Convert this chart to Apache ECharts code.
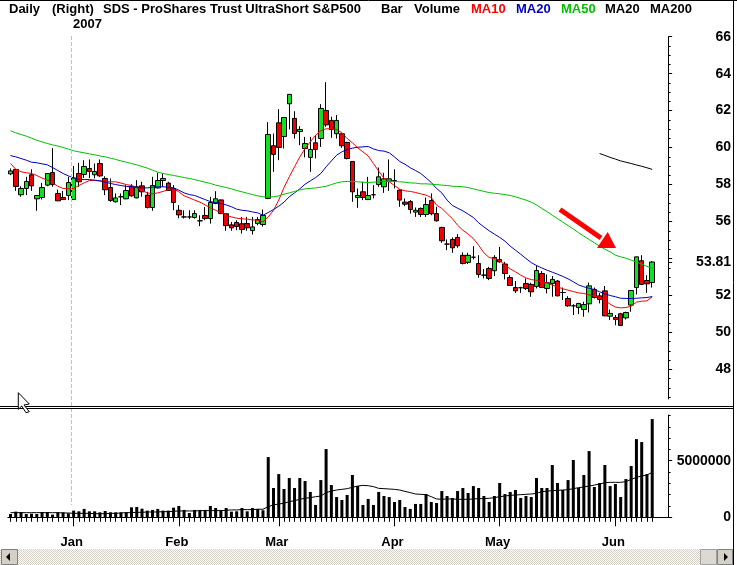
<!DOCTYPE html>
<html><head><meta charset="utf-8">
<style>html,body{margin:0;padding:0;background:#fff}#c{width:737px;height:565px}</style>
<script src="https://cdn.jsdelivr.net/npm/echarts@6/dist/echarts.min.js"></script>
</head><body><div id="c"></div>
<script>
const opens=[58.58,58.82,57.45,57.79,58.53,57.23,57.30,57.97,58.65,57.52,
57.30,57.41,57.19,58.60,58.55,58.87,58.53,59.14,58.33,57.84,
57.07,57.34,57.23,57.91,57.28,57.93,57.43,56.76,57.82,58.22,
58.08,57.79,56.61,56.25,56.25,56.22,56.04,56.33,56.16,56.98,
57.17,56.42,55.82,55.95,55.88,55.89,55.51,55.89,55.84,57.25,
60.10,61.34,60.60,62.37,61.58,60.87,59.95,59.47,60.26,60.49,
62.01,61.47,60.75,60.75,60.28,59.25,57.30,57.61,57.19,57.45,
58.00,57.88,58.18,58.22,57.70,57.05,57.08,56.51,56.71,56.38,
57.14,56.43,55.68,54.78,55.03,55.14,54.17,53.79,54.07,53.73,
53.10,53.46,53.34,53.95,53.70,52.97,52.43,52.42,52.65,52.60,
52.49,53.19,52.38,52.65,52.78,52.16,51.84,51.44,51.35,51.24,
51.55,52.33,51.98,52.25,50.88,50.81,51.01,50.79,51.48,52.43,
53.88,52.81,52.70];
const closes=[58.74,57.90,57.79,58.17,57.93,57.41,57.84,58.60,58.00,57.12,
57.19,58.11,58.36,58.15,58.98,58.71,58.71,58.47,57.72,57.14,
57.28,57.34,57.68,57.39,57.88,57.61,56.76,57.95,58.22,58.33,
57.68,57.03,56.36,56.25,56.25,56.43,56.04,56.16,57.03,57.23,
56.43,55.78,55.66,55.73,55.57,55.66,55.71,56.11,56.33,60.71,
59.63,60.01,61.63,62.88,60.76,60.98,60.22,59.90,59.90,62.12,
61.23,60.98,61.47,60.10,59.41,57.61,57.41,57.30,57.41,57.45,
58.42,58.31,58.31,58.22,57.16,56.94,56.65,56.61,56.38,56.92,
56.42,56.04,54.96,54.78,54.58,54.69,53.73,54.17,54.07,53.14,
53.10,52.92,54.06,53.82,53.19,52.54,52.25,52.42,52.38,52.20,
53.35,52.43,52.69,52.87,51.98,52.16,51.44,51.44,51.57,51.51,
52.52,51.89,51.78,50.90,51.03,50.70,50.38,51.08,52.27,54.09,
52.60,52.63,53.81];
const lows=[58.51,57.66,57.34,57.43,57.66,56.58,57.19,57.91,57.88,57.12,
57.19,57.16,57.19,57.88,58.36,58.35,58.33,58.42,57.43,57.07,
57.03,56.89,57.21,57.34,57.26,57.34,56.71,56.58,57.79,57.88,
57.68,56.61,56.18,56.16,56.13,56.16,55.75,56.07,55.89,56.94,
56.43,55.50,55.50,55.53,55.35,55.50,55.30,55.80,55.73,57.21,
58.69,59.32,59.95,60.98,60.49,60.13,59.47,58.69,59.41,60.04,
61.13,60.53,60.49,59.99,59.36,57.07,56.74,57.16,57.16,57.25,
57.88,57.55,57.66,57.79,56.80,56.83,56.43,56.25,56.25,56.25,
56.34,56.00,54.85,54.45,54.31,54.58,53.68,53.70,53.95,52.96,
52.92,52.83,53.05,53.77,52.87,52.51,52.14,52.14,52.29,51.93,
52.38,52.42,52.11,51.93,51.96,51.75,51.39,50.94,50.99,50.85,
51.08,51.84,51.57,50.88,50.67,50.39,50.36,50.70,51.12,52.05,
52.56,52.14,52.43];
const highs=[58.87,58.82,57.91,58.42,58.83,57.43,58.09,58.60,59.97,57.73,
57.66,58.42,59.01,59.18,59.32,59.36,59.14,59.36,58.45,58.33,
57.52,57.52,57.97,58.02,58.24,58.15,57.61,58.42,58.64,58.60,
58.15,57.97,56.89,56.61,56.61,56.61,56.34,56.79,57.34,57.64,
57.19,56.43,55.98,56.07,56.25,56.25,56.25,56.25,56.65,61.38,
60.76,62.08,61.63,62.88,61.97,61.16,60.58,60.58,60.67,62.35,
63.54,61.67,61.76,60.76,60.31,59.25,57.79,58.15,58.42,57.97,
58.92,58.64,59.36,58.83,57.73,57.25,57.16,56.76,56.76,57.30,
57.52,56.80,55.72,55.03,55.14,55.32,54.33,54.31,54.67,54.18,
53.43,53.55,54.18,54.63,53.82,53.10,52.78,52.47,52.92,52.69,
53.64,53.32,53.14,53.05,52.83,52.43,51.96,51.53,51.60,51.66,
52.70,52.43,52.14,52.51,51.24,50.94,51.06,51.12,52.29,54.09,
54.18,53.10,53.86];
const ma10=[59.14,58.83,58.69,58.64,58.60,58.49,58.35,58.24,58.09,57.91,
57.79,57.77,57.79,57.95,58.09,58.22,58.22,58.20,58.17,58.15,
58.15,58.08,58.00,57.95,57.82,57.68,57.55,57.50,57.55,57.63,
57.73,57.77,57.61,57.39,57.28,57.16,57.05,56.90,56.74,56.61,
56.47,56.34,56.25,56.18,56.15,56.13,56.09,56.07,55.98,56.25,
56.61,57.16,57.84,58.42,58.96,59.50,59.95,60.31,60.67,60.91,
61.02,61.02,60.98,60.80,60.49,60.26,59.99,59.77,59.55,59.14,
58.73,58.35,58.15,57.95,57.75,57.66,57.63,57.57,57.50,57.43,
57.30,56.89,56.71,56.43,56.16,55.80,55.53,55.32,55.08,54.72,
54.31,54.05,54.00,53.91,53.64,53.44,53.28,53.10,52.95,52.86,
52.82,52.74,52.68,52.56,52.47,52.36,52.29,52.21,52.14,52.11,
52.03,51.96,51.91,51.74,51.53,51.37,51.33,51.35,51.42,51.64,
51.69,51.71,51.93];
const ma20=[59.57,59.50,59.41,59.32,59.21,59.18,59.12,59.07,58.92,58.76,
58.60,58.47,58.36,58.27,58.27,58.27,58.24,58.20,58.13,58.06,
58.00,57.95,57.90,57.88,57.86,57.82,57.82,57.86,57.88,57.88,
57.86,57.82,57.70,57.55,57.46,57.41,57.30,57.19,57.08,57.03,
56.98,56.90,56.80,56.67,56.61,56.58,56.52,56.47,56.34,56.49,
56.65,56.83,57.05,57.34,57.55,57.77,58.02,58.20,58.38,58.60,
58.96,59.28,59.59,59.77,59.90,59.97,60.02,60.04,60.06,59.93,
59.84,59.81,59.72,59.50,59.25,59.10,58.91,58.76,58.60,58.36,
58.11,57.79,57.55,57.16,56.87,56.72,56.58,56.40,56.22,55.93,
55.71,55.50,55.32,55.14,54.94,54.67,54.45,54.23,54.00,53.78,
53.62,53.49,53.37,53.26,53.15,53.03,52.90,52.74,52.57,52.47,
52.39,52.32,52.20,52.09,52.00,51.93,51.85,51.84,51.84,51.85,
51.87,51.89,51.94];
const ma50=[60.91,60.80,60.71,60.62,60.51,60.40,60.31,60.22,60.15,60.08,
60.01,59.92,59.83,59.77,59.72,59.66,59.61,59.55,59.50,59.43,
59.36,59.28,59.21,59.14,59.07,58.98,58.89,58.78,58.67,58.60,
58.55,58.49,58.44,58.38,58.33,58.27,58.20,58.13,58.06,57.97,
57.91,57.84,57.77,57.68,57.61,57.53,57.46,57.39,57.34,57.32,
57.34,57.39,57.48,57.55,57.63,57.71,57.77,57.79,57.82,57.86,
57.91,58.00,58.09,58.15,58.17,58.17,58.15,58.13,58.11,58.13,
58.15,58.17,58.17,58.17,58.15,58.13,58.09,58.08,58.04,58.04,
58.02,58.00,57.97,57.95,57.91,57.90,57.88,57.84,57.77,57.70,
57.63,57.57,57.53,57.50,57.46,57.41,57.34,57.25,57.16,57.05,
56.90,56.71,56.54,56.34,56.16,55.97,55.78,55.60,55.39,55.21,
55.03,54.85,54.67,54.50,54.36,54.18,54.09,54.02,53.91,53.82,
53.69,53.58,53.46];
const ma200Start=112;
const ma200=[59.68,59.58,59.47,59.38,59.28,59.21,59.14,59.06,58.99,58.91,58.82];
const volumeM=[.29,.50,.47,.29,.32,.29,.47,.47,.24,.44,
.44,.35,.59,.53,.74,.53,.53,.44,.56,.44,
.44,.44,.44,.88,.91,.76,.59,.65,.74,.59,
.59,.85,1.00,.65,.38,.65,.65,.65,1.00,.82,
.65,.82,.50,.53,.82,.53,.82,.74,.62,5.32,
2.59,3.82,2.50,3.47,2.59,3.47,3.21,2.24,1.09,3.29,
6.03,2.85,1.79,1.53,1.97,3.74,2.76,1.09,1.62,1.09,
2.24,1.88,1.79,1.35,1.53,.91,.74,1.18,1.18,2.06,
1.35,1.26,2.32,1.88,1.71,2.32,2.59,2.15,2.76,2.59,
1.88,1.35,1.88,3.03,2.06,2.24,2.41,1.71,1.88,1.79,
3.47,2.59,2.59,4.62,3.03,2.41,3.29,5.06,2.59,3.74,
5.85,2.68,3.03,4.62,2.76,2.94,1.79,3.38,4.53,6.91,
6.65,3.82,8.68];
const volumeAvgM=[.41,.41,.41,.41,.41,.41,.41,.41,.41,.41,
.38,.38,.35,.35,.35,.35,.32,.32,.32,.35,
.35,.38,.41,.41,.44,.44,.47,.47,.47,.50,
.50,.53,.56,.56,.56,.56,.59,.59,.59,.59,
.59,.62,.65,.65,.68,.68,.68,.71,.71,.94,
1.09,1.18,1.24,1.38,1.47,1.59,1.68,1.74,1.82,1.88,
2.18,2.32,2.41,2.47,2.53,2.65,2.76,2.82,2.79,2.71,
2.56,2.53,2.50,2.47,2.41,2.29,2.18,2.06,2.03,2.00,
1.82,1.62,1.59,1.62,1.62,1.59,1.59,1.59,1.62,1.65,
1.65,1.68,1.74,1.82,1.88,1.94,1.97,2.00,2.03,2.06,
2.12,2.26,2.32,2.35,2.38,2.41,2.44,2.53,2.62,2.68,
2.76,2.85,2.94,3.06,3.09,3.09,3.09,3.15,3.35,3.53,
3.65,3.74,3.97];
const monthAt={12:'Jan',32:'Feb',51:'Mar',73:'Apr',93:'May',115:'Jun'};
const barCount=123, emptySlots=3;
const lastPrice=53.81;
const priceLabels=[48,50,52,lastPrice,56,58,60,62,64,66];
const priceMajor=[48,50,52,lastPrice,54,56,58,60,62,64,66];
const volLabels=[0,5000000];

for(const a of [opens,closes,lows,highs,ma10,ma20,ma50,volumeM,volumeAvgM]) if(a.length!==barCount) throw new Error('len '+a.length);

const cats=[];for(let i=0;i<barCount+emptySlots;i++)cats.push(monthAt[i]||String(i));
const priceMinor=[];for(let v=46.5;v<=66;v+=.5)priceMinor.push(v);
const volMinor=[];for(let v=0;v<=9e6;v+=1e6)volMinor.push(v);
const FONT='bold 13px "Liberation Sans"';
const AX={fontFamily:'Liberation Sans',fontWeight:'bold',fontSize:14,color:'#000'};
const txt=(x,y,s,fill='#000')=>({type:'text',x,y,silent:true,z:50,style:{text:s,font:FONT,fill,textVerticalAlign:'middle'}});
const ln=(x1,y1,x2,y2,stroke='#000',lineWidth=1,lineDash=null)=>({type:'line',silent:true,z:40,shape:{x1,y1,x2,y2},style:{stroke,lineWidth,lineDash}});
const poly=(points,fill,stroke,z=60)=>({type:'polygon',silent:true,z,shape:{points},style:{fill,stroke:stroke||null,lineWidth:1}});
const rect=(x,y,width,height,fill,stroke)=>({type:'rect',silent:true,z:45,shape:{x,y,width,height},style:{fill,stroke:stroke||null,lineWidth:1}});

const dither=document.createElement('canvas');dither.width=2;dither.height=2;
{const g=dither.getContext('2d');g.fillStyle='#fff';g.fillRect(0,0,2,2);g.fillStyle='#d4d0c8';g.fillRect(0,0,1,1);g.fillRect(1,1,1,1);}

const graphics=[
 ln(0,0.5,737,0.5),ln(733.5,0,733.5,565),
 ln(71.5,36,71.5,505,'#c0c0c0',1,[4,2]),
 ln(0,406.5,734,406.5),ln(0,408.5,734,408.5),
 txt(9,9,'Daily'),txt(52,9,'(Right)'),txt(103,9,'SDS - ProShares Trust UltraShort S&P500'),
 txt(381,9,'Bar'),txt(414,9,'Volume'),txt(471,9,'MA10','#ff0000'),txt(516,9,'MA20','#0000c0'),
 txt(561,9,'MA50','#00c000'),txt(605,9,'MA20'),txt(650,9,'MA200'),txt(73,24,'2007'),
 ln(560,209.5,601,238,'#ff0000',5),
 poly([[607.7,232],[597,248],[616,248]],'#ff0000'),
 poly([[18.3,392.7],[29.3,404],[24,405],[29.3,411.7],[26,412.7],[21.7,406],[18.3,409.3]],'#fff','#000'),
 rect(0,549,733,16,{image:dither,repeat:'repeat'}),
 rect(1.5,549.5,16,15,'#d4d0c8','#808080'),
 rect(700.5,549.5,16,15,'#dcd9d2','#a0a0a0'),
 rect(717.5,549.5,15,15,'#d4d0c8','#808080'),
 poly([[6,557],[10,553],[10,561]],'#000',null,61),
 poly([[728,557],[724,553],[724,561]],'#000',null,61)
];

const chart=echarts.init(document.getElementById('c'),null,{renderer:'canvas'});
const lineS=(name,data,color)=>({name,type:'line',data,symbol:'none',xAxisIndex:0,yAxisIndex:0,z:5,
  lineStyle:{color,width:1},itemStyle:{color}});
chart.setOption({
 animation:false,backgroundColor:'#fff',
 grid:[{left:7.87,top:36.7,width:662.76,height:362.3},{left:7.87,top:415,width:662.76,height:102.3}],
 xAxis:[
  {type:'category',gridIndex:0,data:cats,show:false,boundaryGap:true},
  {type:'category',gridIndex:1,data:cats,boundaryGap:true,position:'bottom',
   axisLine:{show:true,lineStyle:{color:'#000',width:1}},
   axisTick:{show:true,alignWithLabel:true,length:4.5,lineStyle:{color:'#000'},interval:(i)=>i<barCount},
   axisLabel:{show:false},splitLine:{show:false}},
  {type:'category',gridIndex:1,data:cats,boundaryGap:true,position:'bottom',
   axisLine:{show:false},
   axisTick:{show:true,alignWithLabel:true,length:9,lineStyle:{color:'#000'},interval:(i)=>monthAt[i]!==undefined},
   axisLabel:{show:true,interval:(i)=>monthAt[i]!==undefined,margin:19,padding:[0,4,0,0],...AX,fontSize:13,formatter:(v)=>isNaN(+v)?v:''},splitLine:{show:false}}
 ],
 yAxis:[
  {type:'value',gridIndex:0,position:'right',offset:-2,min:46.4,max:66,splitLine:{show:false},
   axisLine:{show:true,lineStyle:{color:'#000'}},
   axisTick:{show:true,length:3.5,lineStyle:{color:'#000'},customValues:priceMajor},
   axisLabel:{show:true,customValues:priceLabels,margin:62.5,align:'right',...AX,
     formatter:(v)=>v===lastPrice?v.toFixed(2):String(v)}},
  {type:'value',gridIndex:0,position:'right',offset:-2,min:46.4,max:66,splitLine:{show:false},
   axisLine:{show:false},axisLabel:{show:false},
   axisTick:{show:true,length:2,lineStyle:{color:'#000'},customValues:priceMinor}},
  {type:'value',gridIndex:1,position:'right',offset:-2,min:0,max:9040000,splitLine:{show:false},
   axisLine:{show:true,lineStyle:{color:'#000'}},
   axisTick:{show:true,length:3.5,lineStyle:{color:'#000'},customValues:volLabels},
   axisLabel:{show:true,customValues:volLabels,margin:62.5,align:'right',...AX,formatter:(v)=>String(v)}},
  {type:'value',gridIndex:1,position:'right',offset:-2,min:0,max:9040000,splitLine:{show:false},
   axisLine:{show:false},axisLabel:{show:false},
   axisTick:{show:true,length:2,lineStyle:{color:'#000'},customValues:volMinor}}
 ],
 series:[
  {name:'SDS',type:'candlestick',xAxisIndex:0,yAxisIndex:0,z:4,barWidth:5,
   data:opens.map((o,i)=>[o,closes[i],lows[i],highs[i]]),
   itemStyle:{color:'#10e020',color0:'#f00000',borderColor:'#000',borderColor0:'#000',borderColorDoji:'#000',borderWidth:1}},
  lineS('MA10',ma10,'#ff0000'),
  lineS('MA20',ma20,'#0000c0'),
  lineS('MA50',ma50,'#00c000'),
  lineS('MA200',opens.map((_,i)=>i>=ma200Start?ma200[i-ma200Start]:null),'#000'),
  {name:'Volume',type:'bar',xAxisIndex:1,yAxisIndex:2,barWidth:3,z:4,itemStyle:{color:'#000'},data:volumeM.map(v=>v*1e6)},
  {name:'VolAvg',type:'line',xAxisIndex:1,yAxisIndex:2,symbol:'none',z:5,lineStyle:{color:'#000',width:1},data:volumeAvgM.map(v=>v*1e6)}
 ],
 graphic:{elements:graphics}
});
</script></body></html>
